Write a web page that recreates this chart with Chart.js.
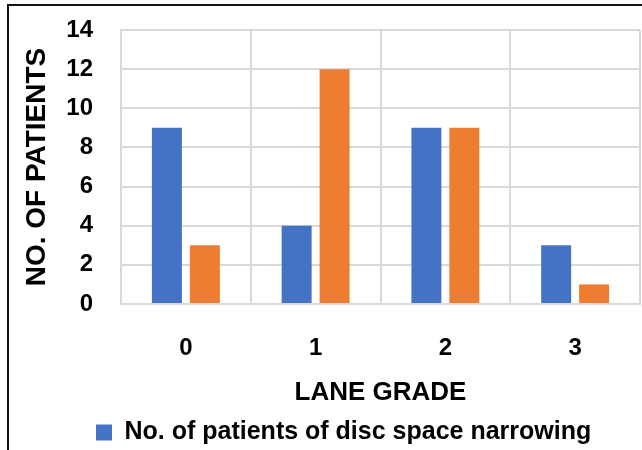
<!DOCTYPE html>
<html>
<head>
<meta charset="utf-8">
<script src="https://cdn.jsdelivr.net/npm/chart.js@4.4.1/dist/chart.umd.min.js"></script>
<style>
    html, body { margin: 0; padding: 0; background: #fff; overflow: hidden; }
    canvas { display: block; }
</style>
</head>
<body>
<canvas id="laneChart" width="642" height="450"></canvas>
<script>
const grades = ['0', '1', '2', '3'];
const discNarrowing = [9, 4, 9, 3];
const secondSeries = [3, 12, 9, 1];
const yTicks = [0, 2, 4, 6, 8, 10, 12, 14];

const fontFamily = '"Liberation Sans", Arial, sans-serif';
const gridColor = '#d9d9d9';

// frame round the picture, cut at right and bottom like the source
const framePlugin = {
    id: 'frame',
    beforeDraw: (chart) => {
        const ctx = chart.ctx;
        ctx.save();
        ctx.strokeStyle = '#111';
        ctx.lineWidth = 2;
        ctx.beginPath();
        ctx.moveTo(8, chart.height);
        ctx.lineTo(8, 5);
        ctx.lineTo(chart.width, 5);
        ctx.stroke();
        ctx.restore();
    }
};

// push the legend so it sits where the source one does
const legendShift = {
    id: 'legendShift',
    afterLayout: (chart) => {
        const lg = chart.legend;
        const dx = 96 - lg.left - lg.options.labels.padding;
        lg.left += dx;
        lg.right += dx;
        lg.top += 5;
        lg.bottom += 5;
    }
};

const initChart = () => {
    const canvas = document.getElementById('laneChart');

    new Chart(canvas, {
        type: 'bar',
        data: {
            labels: grades,
            datasets: [
                {
                    label: 'No. of patients of disc space narrowing',
                    data: discNarrowing,
                    backgroundColor: '#4472c4',
                    categoryPercentage: 0.585,
                    barPercentage: 0.79
                },
                {
                    label: 'No. of patients',
                    data: secondSeries,
                    backgroundColor: '#ed7d31',
                    categoryPercentage: 0.585,
                    barPercentage: 0.79
                }
            ]
        },
        options: {
            responsive: false,
            animation: false,
            layout: {
                padding: { left: 10, right: 2, top: 30, bottom: 0 }
            },
            plugins: {
                legend: {
                    position: 'bottom',
                    align: 'start',
                    labels: {
                        filter: (item) => item.datasetIndex === 0,
                        boxWidth: 16,
                        boxHeight: 16,
                        padding: 6,
                        color: '#000',
                        font: { family: fontFamily, size: 25, weight: 'bold' }
                    }
                },
                tooltip: { enabled: false }
            },
            scales: {
                x: {
                    grid: {
                        offset: true,
                        color: gridColor,
                        lineWidth: 2,
                        drawTicks: false
                    },
                    border: { color: gridColor, width: 2 },
                    ticks: {
                        padding: 30,
                        color: '#000',
                        font: { family: fontFamily, size: 24, weight: 'bold' }
                    },
                    title: {
                        display: true,
                        text: 'LANE GRADE',
                        color: '#000',
                        padding: { top: 17, bottom: 3 },
                        font: { family: fontFamily, size: 26, weight: 'bold', lineHeight: 1 }
                    },
                    afterFit: (scale) => { scale.height = 105; }
                },
                y: {
                    min: 0,
                    max: 14,
                    afterBuildTicks: (scale) => {
                        scale.ticks = yTicks.map((v) => ({ value: v }));
                    },
                    grid: {
                        color: gridColor,
                        lineWidth: 2,
                        drawTicks: false
                    },
                    border: { color: gridColor, width: 2 },
                    ticks: {
                        padding: 28,
                        color: '#000',
                        font: { family: fontFamily, size: 24, weight: 'bold' }
                    },
                    title: {
                        display: true,
                        text: 'NO. OF PATIENTS',
                        color: '#000',
                        padding: { top: 13, bottom: 0 },
                        font: { family: fontFamily, size: 28, weight: 'bold', lineHeight: 1 }
                    },
                    afterFit: (scale) => {
                        scale.width = 111;
                        scale.paddingTop = 0;
                        scale.paddingBottom = 0;
                    }
                }
            }
        },
        plugins: [framePlugin, legendShift]
    });
};

document.addEventListener('DOMContentLoaded', initChart);
</script>
</body>
</html>
